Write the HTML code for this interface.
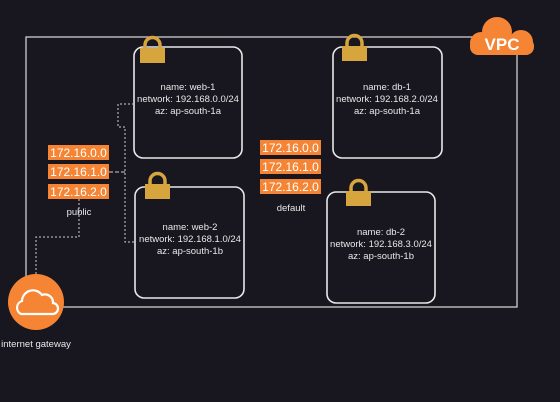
<!DOCTYPE html>
<html><head><style>
body{margin:0;background:#18161f;}
svg{display:block}
text{font-family:"Liberation Sans",sans-serif;}
</style></head><body>
<svg width="560" height="402" viewBox="0 0 560 402">
<rect width="560" height="402" fill="#18161f"/>
<rect x="26" y="37" width="491" height="270" fill="none" stroke="#cfcfcf" stroke-width="1.3"/>
<!-- VPC cloud -->
<g fill="#f58534">
<circle cx="497" cy="32" r="15"/><circle cx="481" cy="43" r="11"/><circle cx="521" cy="42" r="12"/><rect x="470" y="38" width="64" height="17" rx="8"/>
</g>
<text x="502" y="50" font-size="17" fill="#fff" text-anchor="middle" font-weight="bold">VPC</text>
<!-- boxes -->
<g fill="none" stroke="#e8e8e8" stroke-width="1.6">
<rect x="134" y="47" width="108" height="111" rx="9"/>
<rect x="135" y="187" width="109" height="111" rx="9"/>
<rect x="333" y="47" width="109" height="111" rx="9"/>
<rect x="327" y="192" width="108" height="111" rx="9"/>
</g>
<!-- locks -->
<g fill="#d6a53d">
<g transform="translate(140,37)"><path d="M5 12 V8 a7.5 7.5 0 0 1 15 0 V12" fill="none" stroke="#d6a53d" stroke-width="3.5"/><rect x="0" y="11" width="25" height="15"/></g>
<g transform="translate(145,173)"><path d="M5 12 V8 a7.5 7.5 0 0 1 15 0 V12" fill="none" stroke="#d6a53d" stroke-width="3.5"/><rect x="0" y="11" width="25" height="15"/></g>
<g transform="translate(342,35)"><path d="M5 12 V8 a7.5 7.5 0 0 1 15 0 V12" fill="none" stroke="#d6a53d" stroke-width="3.5"/><rect x="0" y="11" width="25" height="15"/></g>
<g transform="translate(346,180)"><path d="M5 12 V8 a7.5 7.5 0 0 1 15 0 V12" fill="none" stroke="#d6a53d" stroke-width="3.5"/><rect x="0" y="11" width="25" height="15"/></g>
</g>
<g font-size="9.5" fill="#e8e8e8" text-anchor="middle">
<text x="188" y="90">name:  web-1</text><text x="188" y="102">network: 192.168.0.0/24</text><text x="188" y="114">az: ap-south-1a</text>
<text x="190" y="230">name:  web-2</text><text x="190" y="242">network: 192.168.1.0/24</text><text x="190" y="254">az: ap-south-1b</text>
<text x="387" y="90">name:  db-1</text><text x="387" y="102">network: 192.168.2.0/24</text><text x="387" y="114">az: ap-south-1a</text>
<text x="381" y="235">name: db-2</text><text x="381" y="247">network: 192.168.3.0/24</text><text x="381" y="259">az: ap-south-1b</text>
<text x="79" y="215">public</text><text x="291" y="211">default</text>
<text x="36" y="347">internet gateway</text>
</g>
<!-- orange labels -->
<g fill="#f58534">
<rect x="48" y="145" width="61" height="15"/><rect x="48" y="164" width="61" height="15"/><rect x="48" y="184" width="61" height="15"/>
<rect x="260" y="140" width="61" height="15"/><rect x="260" y="159" width="61" height="15"/><rect x="260" y="179" width="61" height="15"/>
</g>
<g font-size="12" fill="#fff" text-anchor="middle">
<text x="78.5" y="157">172.16.0.0</text><text x="78.5" y="176">172.16.1.0</text><text x="78.5" y="196">172.16.2.0</text>
<text x="290.5" y="152">172.16.0.0</text><text x="290.5" y="171">172.16.1.0</text><text x="290.5" y="191">172.16.2.0</text>
</g>
<!-- dashed connectors -->
<g fill="none" stroke="#cfcfcf" stroke-width="1" stroke-dasharray="2,2">
<path d="M134 104 H118 V127 H125 V242 H135"/>
<path d="M109 172 H125" stroke-dasharray="4,2"/>
<path d="M79 199 V237 H36 V274"/>
</g>
<!-- gateway -->
<circle cx="36" cy="302" r="28" fill="#f58534"/>
<path d="M21 314 a7 7 0 0 1 1 -13 a11 11 0 0 1 20 -6 a8 8 0 0 1 11 8 a5.5 5.5 0 0 1 -1 11 Z" fill="none" stroke="#fff" stroke-width="2.2"/>
</svg>
</body></html>
